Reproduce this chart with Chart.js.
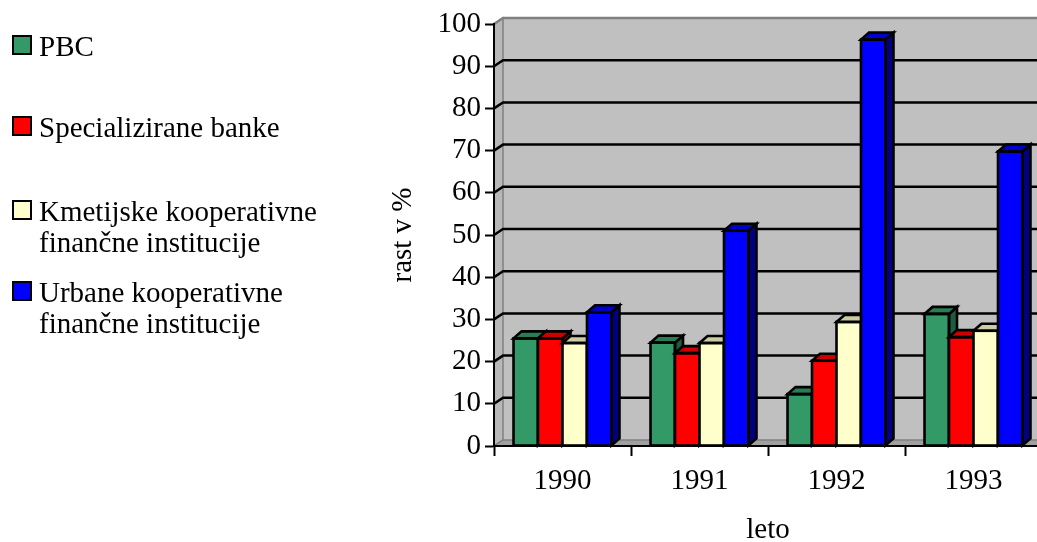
<!DOCTYPE html>
<html>
<head>
<meta charset="utf-8">
<script src="https://cdn.jsdelivr.net/npm/chart.js@4/dist/chart.umd.min.js"></script>
<style>
  html, body { margin: 0; padding: 0; background: #ffffff; overflow: hidden; width: 1037px; height: 542px; }
  #wrap { position: absolute; left: 0; top: 0; width: 1052px; height: 542px; }
  #legend { position: absolute; left: 0; top: 0; font-family: "Liberation Serif", "Times New Roman", serif; font-size: 29px; color: #000; }
  .entry { position: absolute; left: 39px; line-height: 31px; white-space: nowrap; }
  .swatch { position: absolute; left: 12px; width: 20px; height: 20px; border: 2.5px solid #000; box-sizing: border-box; }
</style>
</head>
<body>
<div id="wrap"><canvas id="chart" width="1052" height="542"></canvas></div>
<div id="legend"></div>
<script>
// Growth of financial institutions by year (%)
const years = ['1990', '1991', '1992', '1993'];
const seriesNames = [
  'PBC',
  'Specializirane banke',
  'Kmetijske kooperativne\nfinančne institucije',
  'Urbane kooperativne\nfinančne institucije'
];
const pbc = [25.5, 24.5, 12.3, 31.3];
const specializirane = [25.5, 22.0, 20.2, 25.8];
const kmetijske = [24.4, 24.4, 29.4, 27.3];
const urbane = [31.7, 51.0, 96.3, 69.8];
const yTicks = [0, 10, 20, 30, 40, 50, 60, 70, 80, 90, 100];

// front / top / side shades for each series
const faceColors = [
  { front: '#339966', top: '#2a7d53', side: '#1f5c3d' },
  { front: '#ff0000', top: '#cc0000', side: '#990000' },
  { front: '#ffffcc', top: '#cccca3', side: '#99997a' },
  { front: '#0000ff', top: '#0000cc', side: '#000080' }
];

const FONT = '"Liberation Serif", "Times New Roman", serif';
const WALL_DX = 9, WALL_DY = 6;
const BAR_DX = 8, BAR_DY = 7;

// walls, floor and gridlines on the back wall
const wallPlugin = {
  id: 'walls',
  beforeDraw(chart) {
    const { ctx, chartArea: a, scales } = chart;
    const L = a.left, R = a.right, T = a.top, B = a.bottom;
    ctx.save();
    // back wall
    ctx.fillStyle = '#c0c0c0';
    ctx.fillRect(L + WALL_DX, T - WALL_DY, R - L, B - T);
    // left wall
    ctx.beginPath();
    ctx.moveTo(L, B); ctx.lineTo(L, T);
    ctx.lineTo(L + WALL_DX, T - WALL_DY); ctx.lineTo(L + WALL_DX, B - WALL_DY);
    ctx.closePath();
    ctx.fillStyle = '#b8b8b8';
    ctx.fill();
    ctx.strokeStyle = '#808080';
    ctx.lineWidth = 1.5;
    ctx.stroke();
    // floor
    ctx.beginPath();
    ctx.moveTo(L, B); ctx.lineTo(R, B);
    ctx.lineTo(R + WALL_DX, B - WALL_DY); ctx.lineTo(L + WALL_DX, B - WALL_DY);
    ctx.closePath();
    ctx.fillStyle = '#a0a0a0';
    ctx.fill();
    ctx.strokeStyle = '#808080';
    ctx.stroke();
    // gridlines from the value scale
    const y = scales.y;
    y.ticks.forEach(t => {
      const v = t.value;
      if (v <= y.min) return;
      const py = y.getPixelForValue(v);
      ctx.beginPath();
      ctx.moveTo(L, py);
      ctx.lineTo(L + WALL_DX, py - WALL_DY);
      ctx.lineTo(R + WALL_DX, py - WALL_DY);
      ctx.strokeStyle = v >= y.max ? '#808080' : '#000000';
      ctx.lineWidth = 2.5;
      ctx.stroke();
    });
    ctx.restore();
  }
};

// redraw each bar as a block (front, side, top, outline), series left to right
const bar3dPlugin = {
  id: 'bar3d',
  afterDatasetsDraw(chart) {
    const { ctx } = chart;
    ctx.save();
    ctx.lineWidth = 2.6;
    ctx.strokeStyle = '#000000';
    ctx.lineJoin = 'miter';
    chart.data.datasets.forEach((ds, di) => {
      const meta = chart.getDatasetMeta(di);
      const colors = faceColors[di];
      meta.data.forEach(el => {
        const p = el.getProps(['x', 'y', 'base', 'width'], true);
        const l = p.x - p.width / 2, r = p.x + p.width / 2, top = p.y, base = p.base;
        // front
        ctx.fillStyle = colors.front;
        ctx.fillRect(l, top, r - l, base - top);
        // side
        ctx.beginPath();
        ctx.moveTo(r, top); ctx.lineTo(r + BAR_DX, top - BAR_DY);
        ctx.lineTo(r + BAR_DX, base - BAR_DY); ctx.lineTo(r, base);
        ctx.closePath();
        ctx.fillStyle = colors.side;
        ctx.fill(); ctx.stroke();
        // top
        ctx.beginPath();
        ctx.moveTo(l, top); ctx.lineTo(r, top);
        ctx.lineTo(r + BAR_DX, top - BAR_DY); ctx.lineTo(l + BAR_DX, top - BAR_DY);
        ctx.closePath();
        ctx.fillStyle = colors.top;
        ctx.fill(); ctx.stroke();
        // front outline
        ctx.strokeRect(l, top, r - l, base - top);
      });
    });
    ctx.restore();
  }
};

const seriesValues = [pbc, specializirane, kmetijske, urbane];

new Chart(document.getElementById('chart'), {
  type: 'bar',
  data: {
    labels: years,
    datasets: seriesValues.map((vals, i) => ({
      label: seriesNames[i].replace('\n', ' '),
      data: vals,
      backgroundColor: faceColors[i].front,
      borderWidth: 0,
      categoryPercentage: 0.715,
      barPercentage: 1.0
    }))
  },
  options: {
    responsive: false,
    animation: false,
    devicePixelRatio: 1,
    layout: { padding: { left: 386, top: 24, right: 10, bottom: 0 } },
    plugins: { legend: { display: false }, tooltip: { enabled: false } },
    scales: {
      x: {
        z: 1,
        offset: true,
        grid: { drawOnChartArea: false, drawTicks: true, tickLength: 10, tickColor: '#000', tickWidth: 2, offset: true },
        border: { display: true, color: '#000', width: 2 },
        ticks: { color: '#000', font: { family: FONT, size: 29, lineHeight: 1.2 }, padding: 8, maxRotation: 0 },
        title: { display: true, text: 'leto', color: '#000', font: { family: FONT, size: 29, lineHeight: 0.83 }, padding: 0 },
        afterFit(scale) { scale.height = 96; }
      },
      y: {
        z: 1,
        min: 0,
        max: 100,
        afterBuildTicks(scale) { scale.ticks = yTicks.map(v => ({ value: v })); },
        grid: { drawOnChartArea: false, drawTicks: true, tickLength: 9, tickColor: '#000', tickWidth: 2 },
        border: { display: true, color: '#000', width: 2 },
        ticks: { color: '#000', font: { family: FONT, size: 29, lineHeight: 1.2 }, padding: 4 },
        title: { display: true, text: 'rast v %', color: '#000', font: { family: FONT, size: 29, lineHeight: 1.2 }, padding: 0 },
        afterFit(scale) { scale.width = 108; }
      }
    }
  },
  plugins: [wallPlugin, bar3dPlugin]
});

// legend, built from the series names and colours
const firstBaselines = [56, 137, 221, 302];
const legend = document.getElementById('legend');
seriesNames.forEach((name, i) => {
  const sw = document.createElement('div');
  sw.className = 'swatch';
  sw.style.top = (firstBaselines[i] - 21) + 'px';
  sw.style.background = faceColors[i].front;
  legend.appendChild(sw);
  const entry = document.createElement('div');
  entry.className = 'entry';
  entry.style.top = (firstBaselines[i] - 25) + 'px';
  name.split('\n').forEach((line, k) => {
    if (k > 0) entry.appendChild(document.createElement('br'));
    entry.appendChild(document.createTextNode(line));
  });
  legend.appendChild(entry);
});
</script>
</body>
</html>
